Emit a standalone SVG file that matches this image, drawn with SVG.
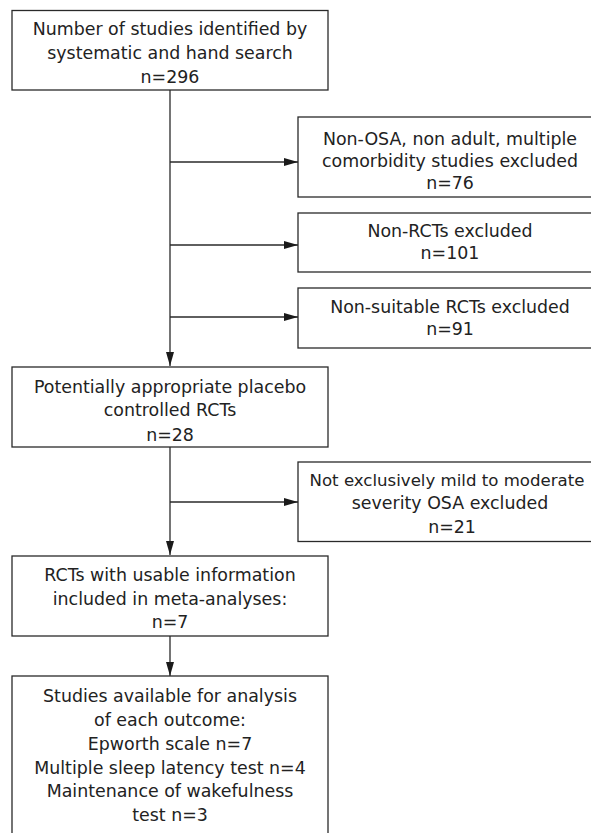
<svg xmlns="http://www.w3.org/2000/svg" width="591" height="833" viewBox="0 0 591 833">
<style>
.box{fill:#fff;stroke:#2a2a2a;stroke-width:1.3}
.t{font-family:"DejaVu Sans","Liberation Sans",sans-serif;font-size:17.4px;fill:#222;text-anchor:middle}
.ln{stroke:#2a2a2a;stroke-width:1.3;fill:none}
</style>
<defs>
<marker id="ah" viewBox="0 0 14 8" refX="14" refY="4" markerWidth="14" markerHeight="8" markerUnits="userSpaceOnUse" orient="auto">
<path d="M0,0 L14,4 L0,8 Z" fill="#1a1a1a"/>
</marker>
</defs>
<g id="connectors">
<line class="ln" x1="170" y1="90" x2="170" y2="366" marker-end="url(#ah)"/>
<line class="ln" x1="170" y1="162" x2="298" y2="162" marker-end="url(#ah)"/>
<line class="ln" x1="170" y1="245" x2="298" y2="245" marker-end="url(#ah)"/>
<line class="ln" x1="170" y1="317" x2="298" y2="317" marker-end="url(#ah)"/>
<line class="ln" x1="170" y1="447" x2="170" y2="555" marker-end="url(#ah)"/>
<line class="ln" x1="170" y1="502" x2="298" y2="502" marker-end="url(#ah)"/>
<line class="ln" x1="170" y1="636" x2="170" y2="676" marker-end="url(#ah)"/>
</g>
<g id="n1">
<rect class="box" x="12" y="10.5" width="316" height="79.5"/>
<text class="t" x="170" y="35">Number of studies identified by</text>
<text class="t" x="170" y="59">systematic and hand search</text>
<text class="t" x="170" y="83">n=296</text>
</g>
<g id="e1">
<rect class="box" x="298" y="117" width="310" height="80"/>
<text class="t" x="450" y="145">Non-OSA, non adult, multiple</text>
<text class="t" x="450" y="167">comorbidity studies excluded</text>
<text class="t" x="450" y="189">n=76</text>
</g>
<g id="e2">
<rect class="box" x="298" y="213" width="310" height="59"/>
<text class="t" x="450" y="237">Non-RCTs excluded</text>
<text class="t" x="450" y="259">n=101</text>
</g>
<g id="e3">
<rect class="box" x="298" y="288" width="310" height="60"/>
<text class="t" x="450" y="312.5">Non-suitable RCTs excluded</text>
<text class="t" x="450" y="335">n=91</text>
</g>
<g id="n2">
<rect class="box" x="12" y="367" width="316" height="80"/>
<text class="t" x="170" y="392.5">Potentially appropriate placebo</text>
<text class="t" x="170" y="416">controlled RCTs</text>
<text class="t" x="170" y="440.5">n=28</text>
</g>
<g id="e4">
<rect class="box" x="298" y="462" width="310" height="79.5"/>
<text class="t" x="447" y="485.5" style="font-size:16.6px">Not exclusively mild to moderate</text>
<text class="t" x="450" y="508.5">severity OSA excluded</text>
<text class="t" x="452" y="532.5">n=21</text>
</g>
<g id="n3">
<rect class="box" x="12" y="556" width="316" height="80"/>
<text class="t" x="170" y="580.5">RCTs with usable information</text>
<text class="t" x="170" y="604.5">included in meta-analyses:</text>
<text class="t" x="170" y="628">n=7</text>
</g>
<g id="n4">
<rect class="box" x="12" y="676" width="316" height="170"/>
<text class="t" x="170" y="701.5">Studies available for analysis</text>
<text class="t" x="170" y="725.5">of each outcome:</text>
<text class="t" x="170" y="749.5">Epworth scale n=7</text>
<text class="t" x="170" y="773.5">Multiple sleep latency test n=4</text>
<text class="t" x="170" y="797">Maintenance of wakefulness</text>
<text class="t" x="170" y="821">test n=3</text>
</g>
</svg>
